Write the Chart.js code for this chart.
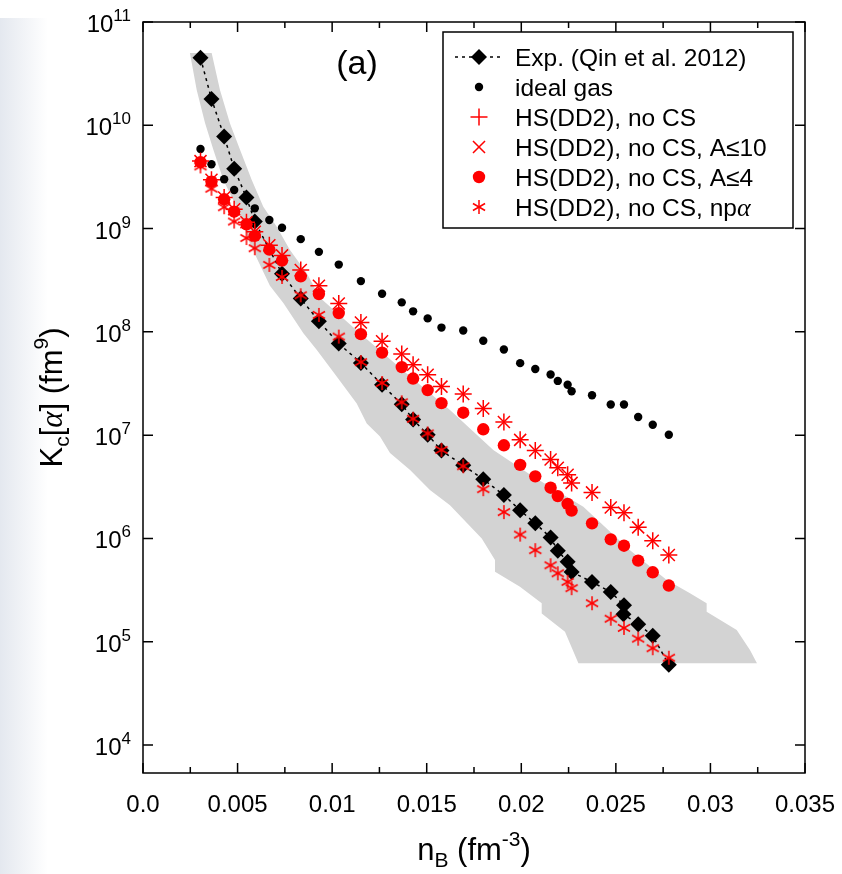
<!DOCTYPE html>
<html>
<head>
<meta charset="utf-8">
<script src="https://cdn.jsdelivr.net/npm/chart.js@4.4.0/dist/chart.umd.min.js"></script>
<style>
  html, body { margin: 0; padding: 0; background: #fff; }
  #wrap { position: relative; width: 842px; height: 874px; }
  #edge { position: absolute; left: 0; top: 18px; width: 48px; height: 856px;
          background: linear-gradient(to right, #e4e8ef, rgba(255,255,255,0)); }
  canvas { position: absolute; left: 0; top: 0; }
</style>
</head>
<body>
<div id="wrap">
  <div id="edge"></div>
  <canvas id="chart" width="842" height="874"></canvas>
</div>
<script>
// nB grid (fm^-3) of the model points
const nB = [0.00304, 0.00362, 0.00429, 0.00482, 0.00547, 0.00591, 0.00668, 0.00735,
  0.00834, 0.0093, 0.01035, 0.01152, 0.01264, 0.01368, 0.01428, 0.01505,
  0.01578, 0.01693, 0.01799, 0.01908, 0.01994, 0.02074, 0.02155, 0.02193,
  0.02245, 0.02266, 0.02374, 0.02473, 0.02543, 0.02618, 0.02695, 0.0278];

// Kc[alpha] (fm^9) per model
const idealGas = [5.9e9, 4.2e9, 3.0e9, 2.36e9, 1.95e9, 1.57e9, 1.21e9, 1.02e9,
  7.9e8, 5.95e8, 4.48e8, 3.1e8, 2.34e8, 1.93e8, 1.58e8, 1.35e8,
  1.10e8, 1.03e8, 8.2e7, 6.75e7, 4.98e7, 4.37e7, 3.86e7, 3.35e7,
  3.08e7, 2.66e7, 2.43e7, 1.98e7, 1.98e7, 1.5e7, 1.26e7, 1.01e7];
const hsNoCS = [4.5e9, 2.97e9, 2.0e9, 1.54e9, 1.15e9, 9.3e8, 6.9e8, 5.5e8,
  3.97e8, 2.8e8, 1.88e8, 1.23e8, 8.1e7, 6.1e7, 4.8e7, 3.85e7,
  2.95e7, 2.5e7, 1.81e7, 1.34e7, 9.0e6, 7.1e6, 5.8e6, 4.83e6,
  4.14e6, 3.45e6, 2.79e6, 1.99e6, 1.77e6, 1.28e6, 9.5e5, 6.9e5];
const hsA10 = [4.5e9, 2.97e9, 2.0e9, 1.54e9, 1.15e9, 9.3e8, 6.9e8, 5.5e8,
  3.97e8, 2.8e8, 1.88e8, 1.23e8, 8.1e7, 6.1e7, 4.8e7, 3.85e7,
  2.95e7, 2.5e7, 1.81e7, 1.34e7, 9.0e6, 7.1e6, 5.8e6, 4.83e6,
  4.14e6, 3.45e6, 2.79e6, 1.99e6, 1.77e6, 1.28e6, 9.5e5, 6.9e5];
const hsA4 = [4.4e9, 2.85e9, 1.92e9, 1.46e9, 1.1e9, 8.5e8, 6.25e8, 4.9e8,
  3.45e8, 2.32e8, 1.52e8, 9.5e7, 6.3e7, 4.56e7, 3.53e7, 2.73e7,
  2.04e7, 1.65e7, 1.14e7, 7.98e6, 5.15e6, 3.99e6, 3.1e6, 2.57e6,
  2.16e6, 1.86e6, 1.40e6, 9.8e5, 8.5e5, 6.1e5, 4.7e5, 3.5e5];
const hsNpa = [4.0e9, 2.43e9, 1.61e9, 1.17e9, 8.1e8, 6.45e8, 4.45e8, 3.4e8,
  2.26e8, 1.46e8, 9.0e7, 5.1e7, 3.2e7, 2.08e7, 1.44e7, 1.04e7,
  7.2e6, 5.0e6, 3.0e6, 1.8e6, 1.09e6, 7.7e5, 5.5e5, 4.6e5,
  3.8e5, 3.3e5, 2.36e5, 1.67e5, 1.36e5, 1.07e5, 8.65e4, 7.0e4];

// experiment (Qin et al. 2012)
const expX = [0.00304, 0.00362, 0.00429, 0.00482, 0.00547, 0.00591, 0.00735, 0.00834,
  0.0093, 0.01035, 0.01152, 0.01264, 0.01368, 0.01428, 0.01505, 0.01578,
  0.01693, 0.01799, 0.01908, 0.01994, 0.02074, 0.02155, 0.02193, 0.02245,
  0.02266, 0.02374, 0.02473, 0.02543, 0.0254, 0.02618, 0.02695, 0.0278];
const expK = [4.5e10, 1.8e10, 7.8e9, 3.8e9, 2.0e9, 1.17e9, 3.66e8, 2.1e8,
  1.27e8, 7.7e7, 5.0e7, 3.07e7, 1.99e7, 1.42e7, 1.01e7, 7.1e6,
  5.1e6, 3.74e6, 2.63e6, 1.87e6, 1.40e6, 1.02e6, 7.6e5, 5.96e5,
  4.74e5, 3.79e5, 3.03e5, 2.26e5, 1.85e5, 1.48e5, 1.14e5, 6.0e4];

// grey band outline (lower edge down, then upper edge back up)
const bandX = [0.00248, 0.00284, 0.00328, 0.00372, 0.00425, 0.00495, 0.00566, 0.00671,
  0.00742, 0.00848, 0.00918, 0.01024, 0.0113, 0.01183, 0.01253, 0.01306,
  0.01412, 0.01517, 0.01623, 0.01791, 0.01861, 0.01861, 0.01993, 0.02108,
  0.02108, 0.02231, 0.02302, 0.03246, 0.03209, 0.03139, 0.0298, 0.0298,
  0.02892, 0.02769, 0.02575, 0.02328, 0.02064, 0.01852, 0.01623, 0.01394,
  0.01147, 0.00936, 0.00866, 0.00777, 0.00707, 0.00636, 0.00575, 0.00513,
  0.0046, 0.00407, 0.00363];
const bandK = [5.0e10, 2.2e10, 1.05e10, 5.8e9, 2.95e9, 1.62e9, 7.1e8, 2.8e8,
  1.9e8, 9.7e7, 6.7e7, 3.7e7, 2.03e7, 1.3e7, 9.7e6, 6.7e6,
  4.6e6, 2.94e6, 2.1e6, 1.0e6, 6.2e5, 4.76e5, 3.4e5, 2.36e5,
  1.88e5, 1.25e5, 6.2e4, 6.2e4, 8.3e4, 1.3e5, 1.95e5, 2.36e5,
  2.94e5, 3.95e5, 7.7e5, 2.03e6, 3.95e6, 7.2e6, 1.75e7, 3.96e7,
  9.7e7, 2.14e8, 3.7e8, 6.2e8, 1.04e9, 1.63e9, 2.95e9, 5.8e9,
  1.04e10, 2.19e10, 5.0e10];

// axes
const xTicks = [0, 0.005, 0.01, 0.015, 0.02, 0.025, 0.03, 0.035];
const xTickLabels = ['0.0', '0.005', '0.01', '0.015', '0.02', '0.025', '0.03', '0.035'];
const xMinorTicks = [0.0025, 0.0075, 0.0125, 0.0175, 0.0225, 0.0275, 0.0325];
const yExponents = [4, 5, 6, 7, 8, 9, 10, 11];

const FONT = '"Liberation Sans", Arial, Helvetica, sans-serif';
const SERIF = '"Liberation Serif", "DejaVu Serif", serif';
const RED = '#ff0000';

const pts = (xs, ys) => xs.map((v, i) => ({ x: v, y: ys[i] }));

// 6-spoke asterisk used for the np-alpha series
function makeAsterisk(r, color, lw) {
  const c = document.createElement('canvas');
  const s = Math.ceil(2 * r + 4);
  c.width = c.height = s;
  const g = c.getContext('2d');
  g.strokeStyle = color;
  g.lineWidth = lw;
  const m = s / 2;
  [90, 30, 150].forEach(a => {
    const dx = r * Math.cos(a * Math.PI / 180), dy = r * Math.sin(a * Math.PI / 180);
    g.beginPath(); g.moveTo(m - dx, m - dy); g.lineTo(m + dx, m + dy); g.stroke();
  });
  return c;
}
const asterisk = makeAsterisk(7, RED, 1.5);

// draws text made of pieces (sub/superscripts, italic greek)
function rich(ctx, parts, x, y, align) {
  let w = 0;
  parts.forEach(p => {
    ctx.font = (p.it ? 'italic ' : '') + p.s + 'px ' + (p.f || FONT);
    p.w = ctx.measureText(p.t).width;
    w += p.w;
  });
  let cx = align === 'center' ? x - w / 2 : align === 'right' ? x - w : x;
  ctx.textAlign = 'left';
  ctx.textBaseline = 'alphabetic';
  parts.forEach(p => {
    ctx.font = (p.it ? 'italic ' : '') + p.s + 'px ' + (p.f || FONT);
    ctx.fillText(p.t, cx, y + (p.dy || 0));
    cx += p.w;
  });
}

const legendRows = [
  { label: [{ t: 'Exp. (Qin et al. 2012)', s: 24.5 }], style: 'rectRot', r: 8, fill: '#000', line: true },
  { label: [{ t: 'ideal gas', s: 24.5 }], style: 'circle', r: 4.2, fill: '#000' },
  { label: [{ t: 'HS(DD2), no CS', s: 24.5 }], style: 'cross', r: 8.5, stroke: RED },
  { label: [{ t: 'HS(DD2), no CS, A\u226410', s: 24.5 }], style: 'crossRot', r: 8.5, stroke: RED },
  { label: [{ t: 'HS(DD2), no CS, A\u22644', s: 24.5 }], style: 'circle', r: 6.2, fill: RED },
  { label: [{ t: 'HS(DD2), no CS, np', s: 24.5 }, { t: '\u03b1', s: 26, it: true, f: SERIF }], style: asterisk, r: 7 }
];

const framePlugin = {
  id: 'frame',
  afterDraw(chart) {
    const { ctx, chartArea: a, scales: { x, y } } = chart;
    ctx.save();
    ctx.strokeStyle = '#000';
    ctx.fillStyle = '#000';
    ctx.lineWidth = 1.5;

    // ticks, pointing inward, on all four sides
    ctx.beginPath();
    xTicks.forEach(v => {
      const px = x.getPixelForValue(v);
      ctx.moveTo(px, a.bottom); ctx.lineTo(px, a.bottom - 10);
      ctx.moveTo(px, a.top); ctx.lineTo(px, a.top + 10);
    });
    xMinorTicks.forEach(v => {
      const px = x.getPixelForValue(v);
      ctx.moveTo(px, a.bottom); ctx.lineTo(px, a.bottom - 6);
      ctx.moveTo(px, a.top); ctx.lineTo(px, a.top + 6);
    });
    yExponents.forEach(e => {
      const py = y.getPixelForValue(Math.pow(10, e));
      ctx.moveTo(a.left, py); ctx.lineTo(a.left + 10, py);
      ctx.moveTo(a.right, py); ctx.lineTo(a.right - 10, py);
    });
    ctx.stroke();
    ctx.strokeRect(a.left, a.top, a.right - a.left, a.bottom - a.top);

    // tick labels
    xTicks.forEach((v, i) => {
      rich(ctx, [{ t: xTickLabels[i], s: 24 }], x.getPixelForValue(v), a.bottom + 39, 'center');
    });
    yExponents.forEach(e => {
      const py = y.getPixelForValue(Math.pow(10, e));
      rich(ctx, [{ t: '10', s: 24 }, { t: String(e), s: 17, dy: -11 }], a.left - 12, py + 10, 'right');
    });

    // axis titles
    rich(ctx, [{ t: 'n', s: 31 }, { t: 'B', s: 21, dy: 7 }, { t: ' (fm', s: 31 },
      { t: '-3', s: 21, dy: -14 }, { t: ')', s: 31 }], (a.left + a.right) / 2, 860, 'center');
    ctx.save();
    ctx.translate(62, (a.top + a.bottom) / 2);
    ctx.rotate(-Math.PI / 2);
    rich(ctx, [{ t: 'K', s: 31 }, { t: 'c', s: 21, dy: 7 }, { t: '[', s: 31 },
      { t: '\u03b1', s: 31, it: true, f: SERIF }, { t: '] (fm', s: 31 },
      { t: '9', s: 21, dy: -14 }, { t: ')', s: 31 }], 0, 0, 'center');
    ctx.restore();

    // panel tag
    rich(ctx, [{ t: '(a)', s: 34 }], 357, 74, 'center');

    // legend box
    const lx = 443, ly = 32, lw = 350, lh = 196;
    ctx.fillStyle = '#fff';
    ctx.fillRect(lx, ly, lw, lh);
    ctx.strokeRect(lx, ly, lw, lh);
    legendRows.forEach((row, i) => {
      const ry = 57 + i * 30;
      if (row.line) {
        ctx.save();
        ctx.setLineDash([3, 4]);
        ctx.beginPath(); ctx.moveTo(455, ry); ctx.lineTo(503, ry); ctx.stroke();
        ctx.restore();
      }
      ctx.fillStyle = row.fill || RED;
      ctx.strokeStyle = row.stroke || '#000';
      ctx.lineWidth = 1.5;
      Chart.helpers.drawPoint(ctx, {
        pointStyle: row.style, radius: row.r, rotation: 0,
        borderWidth: row.stroke ? 1.5 : 0
      }, 479, ry);
      ctx.fillStyle = '#000';
      rich(ctx, row.label, 515, ry + 9, 'left');
    });
    ctx.restore();
  }
};

new Chart(document.getElementById('chart'), {
  type: 'scatter',
  data: {
    datasets: [
      { type: 'line', label: 'band', data: pts(bandX, bandK), fill: 'shape',
        backgroundColor: '#d3d3d3', borderColor: 'rgba(0,0,0,0)', borderWidth: 0,
        pointRadius: 0, tension: 0, order: 10 },
      { type: 'line', label: 'Exp. (Qin et al. 2012)', data: pts(expX, expK), fill: false,
        borderColor: '#000', borderWidth: 1.5, borderDash: [3, 4], tension: 0,
        pointStyle: 'rectRot', pointRadius: 8, pointBackgroundColor: '#000',
        pointBorderWidth: 0, order: 6 },
      { label: 'ideal gas', data: pts(nB, idealGas), pointStyle: 'circle', pointRadius: 4.2,
        pointBackgroundColor: '#000', pointBorderWidth: 0, order: 5 },
      { label: 'HS(DD2), no CS', data: pts(nB, hsNoCS), pointStyle: 'cross', pointRadius: 8.5,
        pointBorderColor: RED, pointBorderWidth: 1.5, order: 4 },
      { label: 'HS(DD2), no CS, A\u226410', data: pts(nB, hsA10), pointStyle: 'crossRot', pointRadius: 8.5,
        pointBorderColor: RED, pointBorderWidth: 1.5, order: 3 },
      { label: 'HS(DD2), no CS, A\u22644', data: pts(nB, hsA4), pointStyle: 'circle', pointRadius: 6.2,
        pointBackgroundColor: RED, pointBorderWidth: 0, order: 2 },
      { label: 'HS(DD2), no CS, np\u03b1', data: pts(nB, hsNpa), pointStyle: asterisk, pointRadius: 7,
        order: 1 }
    ]
  },
  options: {
    responsive: false,
    animation: false,
    events: [],
    layout: { padding: { left: 143, right: 37, top: 22, bottom: 101 } },
    scales: {
      x: { type: 'linear', min: 0, max: 0.035, display: false },
      y: { type: 'logarithmic', min: Math.pow(10, 3.729), max: 1e11, display: false }
    },
    plugins: { legend: { display: false }, tooltip: { enabled: false } }
  },
  plugins: [framePlugin]
});
</script>
</body>
</html>
